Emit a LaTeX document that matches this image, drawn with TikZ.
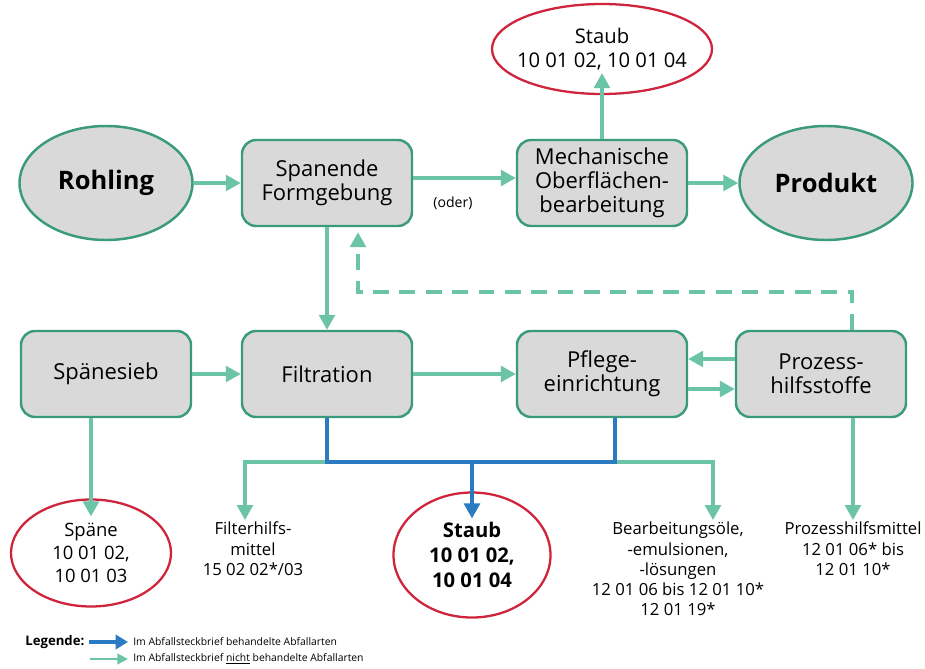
\documentclass[tikz,border=0pt]{standalone}
\usepackage{fontspec}
\setmainfont{Open Sans}
\usepackage{tikz}
\usetikzlibrary{positioning, arrows.meta, shapes.geometric}

\definecolor{rand}{HTML}{3A9A7C}
\definecolor{mint}{HTML}{6BC3A8}
\definecolor{grau}{HTML}{D9D9D9}
\definecolor{rot}{HTML}{D0233C}
\definecolor{blau}{HTML}{2A7BC1}

\begin{document}
\begin{tikzpicture}
	[on grid, font=\fontsize{10.5}{13}\selectfont,
	 kasten/.style={draw=rand, fill=grau, rounded corners=8pt, line width=1.4pt,
	   minimum width=3.4cm, minimum height=1.72cm, align=center,
	   font=\fontsize{12.5}{13.5}\selectfont},
	 rund/.style={ellipse, draw=rand, fill=grau, line width=1.4pt, inner sep=0pt,
	   minimum width=3.46cm, minimum height=2.28cm, font=\bfseries\fontsize{14.5}{16}\selectfont},
	 abfall/.style={ellipse, draw=rot, line width=1.3pt, inner sep=0pt, align=center},
	 pfeil/.style={draw=mint, line width=1.8pt, -{Triangle[length=8.5pt,width=9pt]}},
	 rueck/.style={pfeil, dash pattern=on 9pt off 6pt},
	 blaupfeil/.style={draw=blau, line width=1.8pt, -{Triangle[length=8.5pt,width=9pt]}},
	 info/.style={align=center, inner sep=1pt, anchor=north, font=\fontsize{9.5}{11.5}\selectfont}]
   \useasboundingbox (0,0) rectangle (18.5,-13.36);
   % obere Reihe
   \node[rund] (rohling) at (2.12,-3.66) {Rohling};
   \node[kasten] (spanend) [right=4.42cm of rohling] {Spanende\\Formgebung};
   \node[kasten] (mech) [right=5.5cm of spanend] {Mechanische\\Oberflächen-\\bearbeitung};
   \node[rund] (produkt) [right=4.48cm of mech] {Produkt};
   \node[abfall, inner xsep=-0.15cm, minimum width=4.4cm, minimum height=1.8cm, font=\fontsize{11.5}{14}\selectfont] (staubtop) [above=2.68cm of mech] {Staub\\10 01 02, 10 01 04};
   \node[font=\fontsize{8}{10}\selectfont] (oder) at (9.06,-4.06) {(oder)};
   % mittlere Reihe
   \node[kasten] (filt) [below=3.82cm of spanend] {Filtration};
   \node[kasten] (sieb) [left=4.42cm of filt] {Spänesieb};
   \node[kasten] (pflege) [right=5.5cm of filt] {Pflege-\\einrichtung};
   \node[kasten] (prozess) [right=4.38cm of pflege] {Prozess-\\hilfsstoffe};
   % Abfallarten
   \node[abfall, minimum width=3.2cm, minimum height=2.14cm] (spaene) at (1.82,-11.06) {Späne\\10 01 02,\\10 01 03};
   \node[abfall, minimum width=3.14cm, minimum height=2.5cm, font=\bfseries\fontsize{11.5}{14}\selectfont] (staubunten) [below right=3.62cm and 2.9cm of filt] {Staub\\10 01 02,\\10 01 04};
   \node[info] (filterhilfs) at (5.06,-10.4) {Filterhilfs-\\mittel\\15 02 02*/03};
   \node[info] (bearb) at (13.56,-10.4) {Bearbeitungsöle,\\-emulsionen,\\-lösungen\\12 01 06 bis 12 01 10*\\12 01 19*};
   \node[info] (prozmittel) at (17.06,-10.4) {Prozesshilfsmittel\\12 01 06* bis\\12 01 10*};
   \coordinate (verteil) at (0,-9.24);
   \coordinate (rueckweg) at (0,-5.84);
   % Verbindungen
   \draw[pfeil] (rohling.east) -- (rohling.east -| spanend.west);
   \draw[pfeil] ([yshift=0.1cm]spanend.east) -- ([yshift=0.1cm]spanend.east -| mech.west);
   \draw[pfeil] (mech.east) -- (mech.east -| produkt.west);
   \draw[pfeil] (mech.north) -- ([yshift=0.44cm]staubtop.south -| mech.north);
   \draw[pfeil] (spanend.south) -- (filt.north);
   \draw[rueck] ([xshift=0.62cm]prozess.north) -- ([xshift=0.62cm]prozess.north |- rueckweg)
         -| ([xshift=0.62cm,yshift=-0.1cm]spanend.south);
   \draw[pfeil] (sieb.east) -- (filt.west);
   \draw[pfeil] (filt.east) -- (pflege.west);
   \draw[pfeil] ([yshift=0.3cm]prozess.west) -- ([yshift=0.3cm]pflege.east);
   \draw[pfeil] ([yshift=-0.3cm]pflege.east) -- ([yshift=-0.3cm]prozess.west);
   \draw[pfeil] (sieb.south -| spaene.north) -- ([yshift=-0.36cm]spaene.north);
   \draw[pfeil] (filt.south |- verteil) -| ([xshift=-0.16cm]filterhilfs.north);
   \draw[pfeil] ([xshift=0.26cm]pflege.south |- verteil) -| ([xshift=0.7cm]bearb.north);
   \draw[pfeil] (prozess.south -| prozmittel.north) -- (prozmittel.north);
   \draw[draw=blau, line width=1.8pt] (filt.south) -- (filt.south |- verteil)
         -- ([xshift=0.26cm]pflege.south |- verteil) -- ([xshift=0.26cm]pflege.south);
   \draw[blaupfeil] (staubunten.north |- verteil) -- ([yshift=-0.54cm]staubunten.north);
   % Legende
   \node[anchor=west, inner sep=0pt, font=\bfseries\fontsize{7.5}{8}\selectfont] (legende) at (0.5,-12.84) {Legende:};
   \node[anchor=west, inner sep=0pt, font=\fontsize{5.9}{8}\selectfont] (leg_blau) at (2.66,-12.84) {Im Abfallsteckbrief behandelte Abfallarten};
   \node[anchor=west, inner sep=0pt, font=\fontsize{5.9}{8}\selectfont] (leg_gruen) at (2.66,-13.18) {Im Abfallsteckbrief \underline{nicht} behandelte Abfallarten};
   \coordinate (lb) at (1.78,-12.84);
   \coordinate (lg) at (1.8,-13.18);
   \draw[draw=blau, line width=2.6pt, -{Triangle[length=7pt,width=8pt]}] (lb) -- ([xshift=-0.1cm]leg_blau.west);
   \draw[draw=mint, line width=1.2pt, -{Triangle[length=6pt,width=6pt]}] (lg) -- ([xshift=-0.1cm]leg_gruen.west);
\end{tikzpicture}
\end{document}
